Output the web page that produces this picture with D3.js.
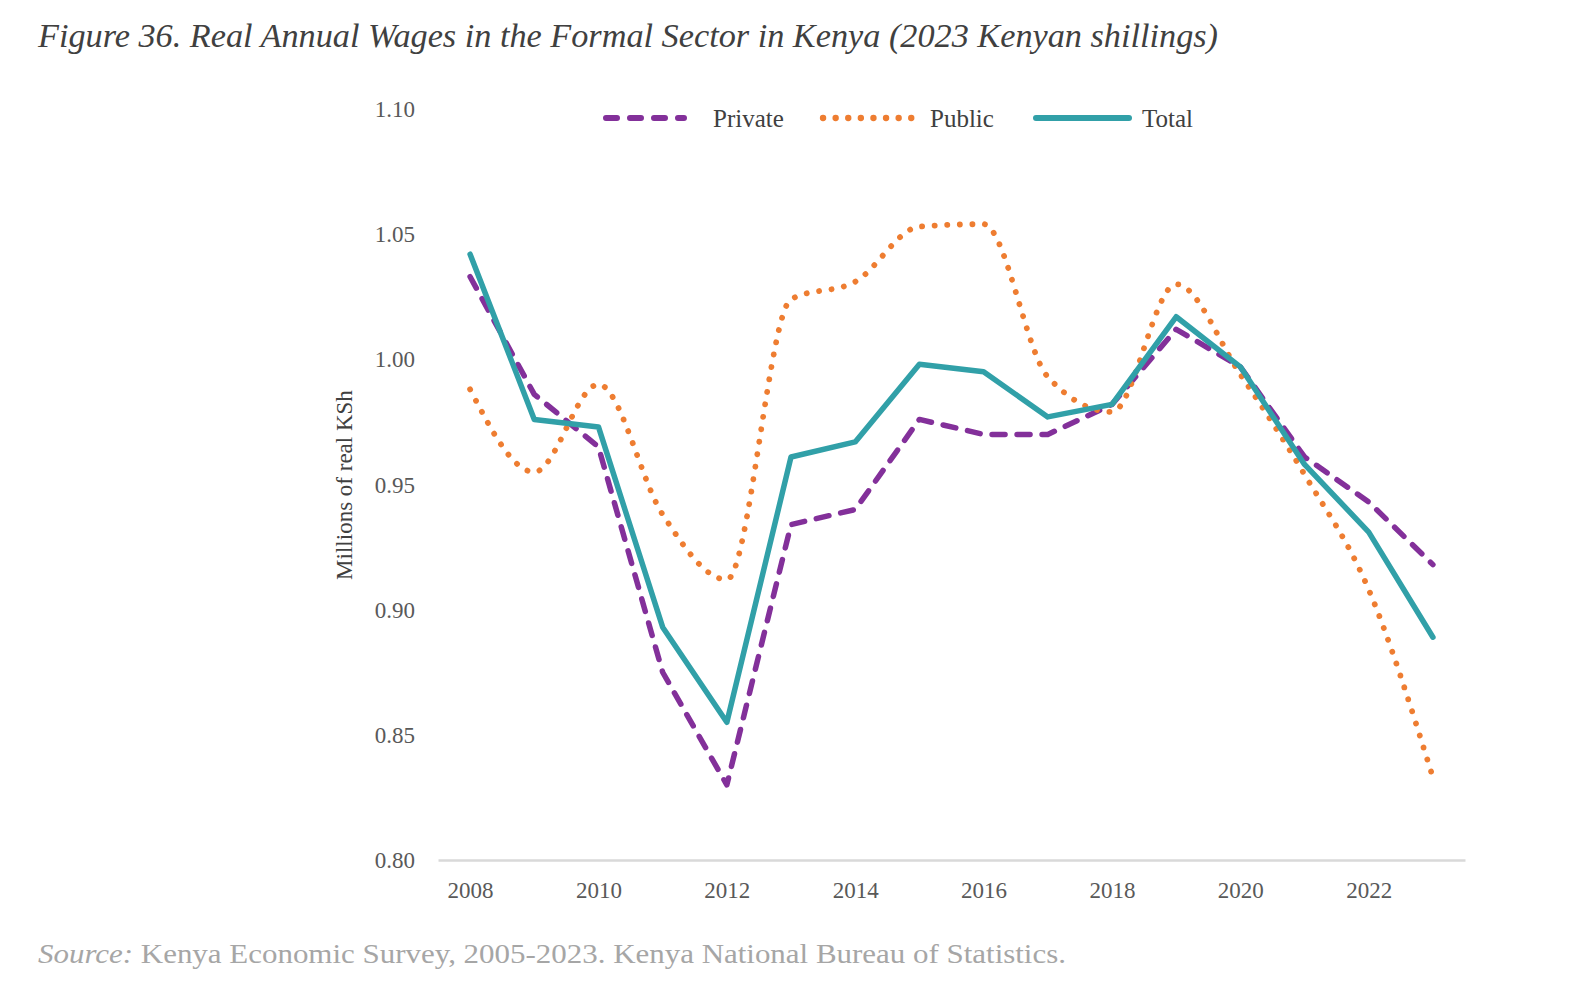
<!DOCTYPE html>
<html>
<head>
<meta charset="utf-8">
<script src="https://d3js.org/d3.v7.min.js"></script>
<style>
  body { margin: 0; background: #fff; }
  svg { display: block; }
  .tick-label { font-family: "Liberation Serif", serif; font-size: 23px; fill: #595959; }
</style>
</head>
<body>
<svg id="chart" width="1581" height="990"></svg>
<script>
// data (millions of real KSh)
var years = [2008, 2009, 2010, 2011, 2012, 2013, 2014, 2015, 2016, 2017, 2018, 2019, 2020, 2021, 2022, 2023];
var privateWages = [1.033, 0.986, 0.965, 0.875, 0.830, 0.934, 0.940, 0.976, 0.970, 0.970, 0.982, 1.012, 0.997, 0.961, 0.943, 0.918];
var publicWages = [0.988, 0.955, 0.990, 0.938, 0.912, 1.024, 1.031, 1.053, 1.054, 0.993, 0.979, 1.030, 0.994, 0.954, 0.908, 0.833];
var totalWages = [1.042, 0.976, 0.973, 0.893, 0.855, 0.961, 0.967, 0.998, 0.995, 0.977, 0.982, 1.017, 0.997, 0.958, 0.931, 0.889];
var yTicks = [0.80, 0.85, 0.90, 0.95, 1.00, 1.05, 1.10];
var xTickYears = [2008, 2010, 2012, 2014, 2016, 2018, 2020, 2022];

var series = [
  { name: "Private", values: privateWages, color: "#83309a", width: 5.5, dash: "13,12", curve: d3.curveLinear },
  { name: "Public", values: publicWages, color: "#ee7d31", width: 5.8, dash: "0.1,12.5", curve: d3.curveMonotoneX },
  { name: "Total", values: totalWages, color: "#31a0a8", width: 5.5, dash: null, curve: d3.curveLinear }
];

var svg = d3.select("#chart");

var x = d3.scalePoint()
  .domain(years)
  .range([438, 1465])
  .padding(0.5);

var y = d3.scaleLinear()
  .domain([0.80, 1.10])
  .range([860, 109]);

// title
svg.append("text")
  .attr("x", 38)
  .attr("y", 47)
  .attr("textLength", 1180)
  .attr("lengthAdjust", "spacingAndGlyphs")
  .style("font-family", "'Liberation Serif', serif")
  .style("font-style", "italic")
  .style("font-size", "33px")
  .style("fill", "#404040")
  .text("Figure 36. Real Annual Wages in the Formal Sector in Kenya (2023 Kenyan shillings)");

// y tick labels (no axis line in the reference)
svg.append("g")
  .selectAll("text")
  .data(yTicks)
  .join("text")
  .attr("class", "tick-label")
  .attr("x", 415)
  .attr("y", d => y(d))
  .attr("dy", "0.35em")
  .attr("text-anchor", "end")
  .text(d => d.toFixed(2));

// y axis title
svg.append("text")
  .attr("transform", "translate(352,485) rotate(-90)")
  .attr("text-anchor", "middle")
  .style("font-family", "'Liberation Serif', serif")
  .style("font-size", "23px")
  .style("fill", "#404040")
  .text("Millions of real KSh");

// x axis
var xAxis = svg.append("g")
  .attr("transform", "translate(0,860)")
  .call(d3.axisBottom(x).tickValues(xTickYears).tickSize(0).tickPadding(22));
xAxis.select(".domain")
  .attr("stroke", "#d9d9d9")
  .attr("stroke-width", 2.5);
xAxis.selectAll("text")
  .attr("class", "tick-label")
  .attr("fill", null);

// lines
series.forEach(function(s) {
  var line = d3.line()
    .x((d, i) => x(years[i]))
    .y(d => y(d))
    .curve(s.curve);
  svg.append("path")
    .datum(s.values)
    .attr("d", line)
    .attr("fill", "none")
    .attr("stroke", s.color)
    .attr("stroke-width", s.width)
    .attr("stroke-linecap", "round")
    .attr("stroke-linejoin", "round")
    .attr("stroke-dasharray", s.dash);
});

// legend
var legendItems = [
  { s: series[0], x1: 606, x2: 684, tx: 713 },
  { s: series[1], x1: 823, x2: 912, tx: 930 },
  { s: series[2], x1: 1036, x2: 1129, tx: 1142 }
];
var legend = svg.append("g").attr("transform", "translate(0,118)");
legendItems.forEach(function(item) {
  legend.append("line")
    .attr("x1", item.x1)
    .attr("x2", item.x2)
    .attr("stroke", item.s.color)
    .attr("stroke-width", item.s.width + 0.5)
    .attr("stroke-linecap", "round")
    .attr("stroke-dasharray", item.s.name === "Private" ? "11,13" : item.s.dash);
  legend.append("text")
    .attr("x", item.tx)
    .attr("dy", "0.35em")
    .style("font-family", "'Liberation Serif', serif")
    .style("font-size", "25px")
    .style("fill", "#404040")
    .text(item.s.name);
});

// source note
var source = svg.append("text")
  .attr("x", 38)
  .attr("y", 963)
  .attr("textLength", 1028)
  .attr("lengthAdjust", "spacingAndGlyphs")
  .style("font-family", "'Liberation Serif', serif")
  .style("font-size", "28px")
  .style("fill", "#a6a6a6");
source.append("tspan").style("font-style", "italic").text("Source:");
source.append("tspan").text(" Kenya Economic Survey, 2005-2023. Kenya National Bureau of Statistics.");
</script>
</body>
</html>
